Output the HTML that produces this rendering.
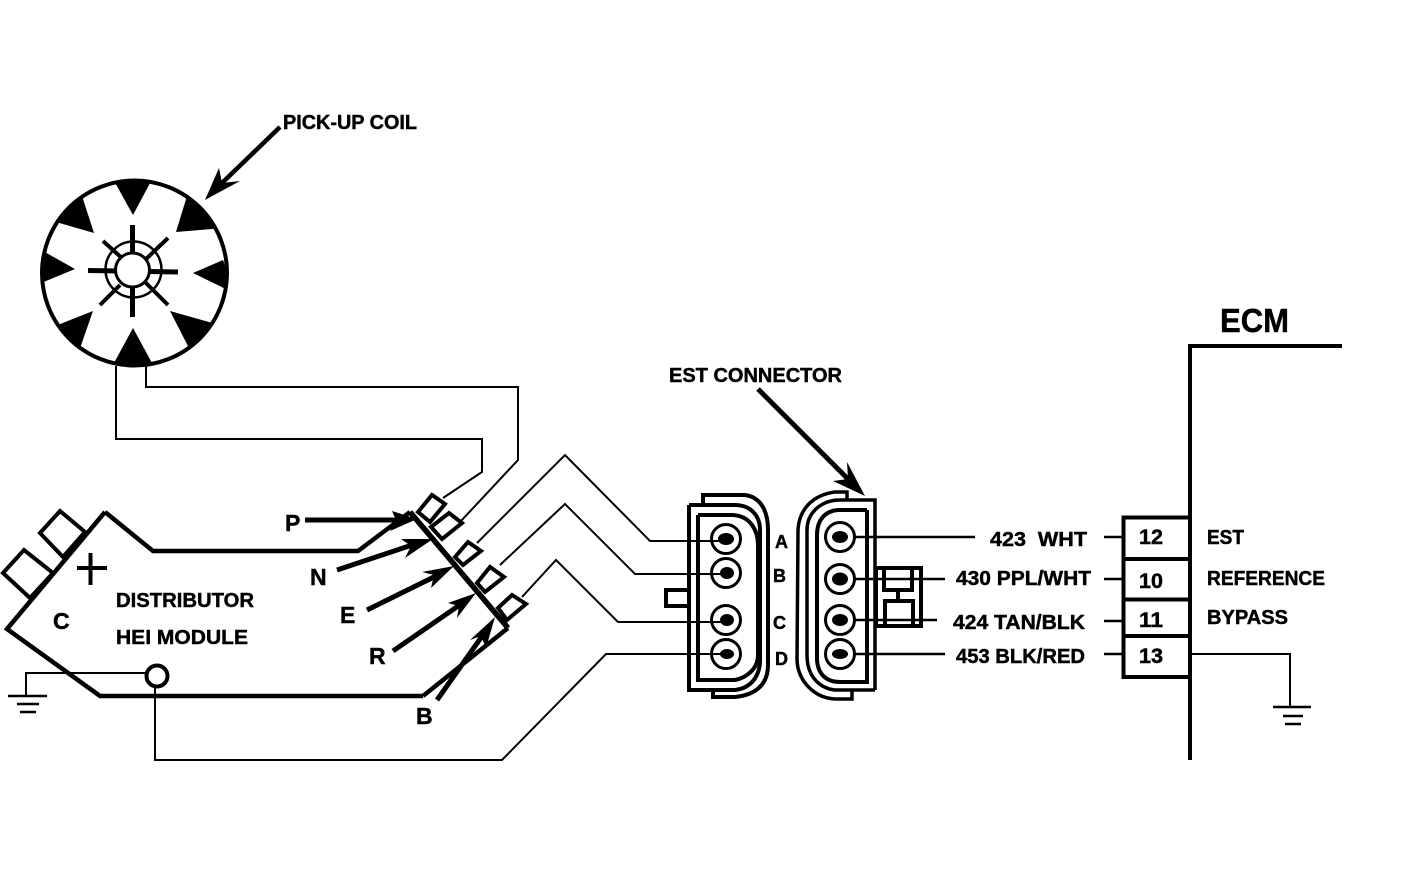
<!DOCTYPE html>
<html><head><meta charset="utf-8"><style>
html,body{margin:0;padding:0;background:#fff}
svg{display:block}
text{font-family:"Liberation Sans",sans-serif;font-weight:bold;fill:#000;stroke:#000;stroke-width:.45px}
</style></head><body>
<svg width="1408" height="894" viewBox="0 0 1408 894" xmlns="http://www.w3.org/2000/svg">
<rect width="1408" height="894" fill="#fff"/>
<defs><clipPath id="cc"><circle cx="134.5" cy="273" r="94"/></clipPath></defs>

<!-- coil -->
<circle cx="134.5" cy="273" r="92.5" fill="#fff" stroke="#000" stroke-width="4"/>
<g clip-path="url(#cc)" fill="#000">
<polygon points="108,170 157,170 133,215"/>
<polygon points="187,196 224,228 176,232"/>
<polygon points="223,260 236,294 193,273"/>
<polygon points="170,311 216,324 190,350"/>
<polygon points="133,328 108,374 158,374"/>
<polygon points="93,311 50,328 78,354"/>
<polygon points="75,269 34,246 34,286"/>
<polygon points="94,233 82,196 56,222"/>
</g>
<g stroke="#000" fill="none" stroke-linecap="butt">
<path d="M132.500 225V317M88 270.500L178 272" stroke-width="5"/>
<path d="M103 241L123 259M168 238L145 260M100 305L120 285M168 305L145 282" stroke-width="4"/>
<circle cx="133.500" cy="269.500" r="28" stroke-width="2.500"/>
<circle cx="132.500" cy="270" r="17" fill="#fff" stroke-width="3"/>
</g>

<!-- thin wires -->
<g fill="none" stroke="#000" stroke-width="2">
<path d="M116 366V439H482V472L443 498"/>
<path d="M146 366V387H518V460L461 521"/>
<path d="M477 543L565 455L650 541H725"/>
<path d="M500 565L565 504L635 574H725"/>
<path d="M522 597L556 560L618 622H725"/>
<path d="M155 686V760H502L606 654H725"/>
<path d="M146 673H26V697"/>
<path d="M1190 654H1290V707"/>
</g>

<!-- module -->
<g fill="none" stroke="#000" stroke-linejoin="miter">
<path d="M105 512L153 551H358L410 512M423 696H100L7 629L105 512M508 628L423 696" stroke-width="4.500"/>
<path d="M410 512L508 628" stroke-width="5.500"/>
<g stroke-width="4">
<path d="M418 512L432 495L445 504L430 522Z"/>
<path d="M431 527L449 513L462 523L442 539Z"/>
<path d="M455 557L468 542L481 551L463 565Z"/>
<path d="M477 583L490 567L504 577L485 592Z"/>
<path d="M498 608L512 595L526 604L507 620Z"/>
<path d="M40 533L60 511L85 532L63 557Z"/>
<path d="M3 573L24 550L53 573L30 598Z"/>
<path d="M77 568H107M90.500 553V585"/>
<circle cx="157" cy="676" r="10.500" fill="#fff"/>
</g>
</g>
<!-- ground left -->
<path d="M8 696H47M17 704H39M20 712H36" stroke="#000" stroke-width="2.500"/>

<!-- arrows -->
<g stroke="#000" stroke-width="5" fill="#000">
<path d="M305 520H400"/><polygon stroke="none" points="417,519 390,531 396,520 392,511"/>
<path d="M337 570L415 544"/><polygon stroke="none" points="433,539 405,558 411,546 401,539"/>
<path d="M367 610L440 574"/><polygon stroke="none" points="454,566 431,588 434,575 422,572"/>
<path d="M393 651L464 602"/><polygon stroke="none" points="476,593 457,618 459,606 448,603"/>
<path d="M437 700L485 632"/><polygon stroke="none" points="495,617 486,648 481,636 470,640"/>
<path d="M280 127L222 183" stroke-width="4.500"/><polygon stroke="none" points="205,200 219,168 222,183 240,181"/>
<path d="M758 389L850 481"/><polygon stroke="none" points="865,496 833,481 848,479 847,462"/>
</g>

<!-- left connector -->
<g fill="none" stroke="#000" stroke-width="4">
<path d="M703 505V495H745C760 497 768 510 768 530V665C768 685 755 695 735 697H713V691"/>
<path d="M689 505V690H735C752 688 760 675 760 660V530C760 515 750 505 735 505H689"/>
<path d="M698 515V680H735C745 678 758 670 758 655"/>
<path d="M698 515H733C750 516 758 530 758 545V655"/>
<rect x="666" y="590" width="23" height="16" />
</g>
<g fill="none" stroke="#000" stroke-width="3">
<circle cx="726" cy="539" r="14.500"/><circle cx="726" cy="573" r="14.500"/><circle cx="726" cy="620" r="14.500"/><circle cx="726" cy="654" r="14.500"/>
</g>
<g fill="#000">
<ellipse cx="726" cy="539" rx="8" ry="6"/><ellipse cx="727" cy="573" rx="7" ry="6"/><ellipse cx="727" cy="620" rx="7" ry="6"/><ellipse cx="727" cy="654" rx="7" ry="5"/>
</g>

<!-- right connector -->
<g fill="none" stroke="#000" stroke-width="3.500">
<path d="M847 500V492H835C812 495 799 510 798 530L797 660C798 682 815 698 835 699H852V690"/>
<path d="M875 690H835C818 688 807 675 807 655V530C807 512 822 500 840 500H875V690"/>
<path d="M867 510H838C825 511 817 520 817 535V660C818 675 827 682 840 682H867V510" stroke-width="4"/>
</g>
<g fill="none" stroke="#000" stroke-width="3">
<circle cx="840" cy="537" r="14.500"/><circle cx="840" cy="579" r="14.500"/><circle cx="840" cy="620" r="14.500"/><circle cx="840" cy="654" r="14.500"/>
</g>
<g fill="#000">
<ellipse cx="840" cy="537" rx="8" ry="6"/><ellipse cx="840" cy="579" rx="8" ry="6.500"/><ellipse cx="840" cy="620" rx="8" ry="6"/><ellipse cx="840" cy="654" rx="8" ry="5"/>
</g>
<!-- clip -->
<g fill="none" stroke="#000" stroke-width="4">
<rect x="876" y="568" width="45" height="58"/>
<path d="M884 568V590H912V568" />
<path d="M898 590V601"/>
<rect x="885" y="601" width="28" height="25"/>
</g>
<path d="M853 537H975M853 579H945M853 620H937M853 654H945" stroke="#000" stroke-width="2.500"/>

<!-- ECM -->
<path d="M1342 346H1190V760" fill="none" stroke="#000" stroke-width="4"/>
<path d="M1190 517.500H1123.500V677H1190M1122 559H1190M1122 599.500H1190M1122 636H1190" fill="none" stroke="#000" stroke-width="4"/>
<path d="M1104 537H1122M1104 579H1122M1104 621H1122M1104 654H1122" stroke="#000" stroke-width="2.500"/>
<path d="M1273 707H1311M1283 716H1303M1285 724H1301" stroke="#000" stroke-width="2.500"/>

<!-- text -->
<text x="283" y="129" font-size="20" textLength="134" lengthAdjust="spacingAndGlyphs">PICK-UP COIL</text>
<text x="669" y="382" font-size="20" textLength="173" lengthAdjust="spacingAndGlyphs">EST CONNECTOR</text>
<text x="1220" y="332" font-size="33" textLength="69" lengthAdjust="spacingAndGlyphs">ECM</text>
<text x="116" y="607" font-size="20" textLength="138" lengthAdjust="spacingAndGlyphs">DISTRIBUTOR</text>
<text x="116" y="644" font-size="20" textLength="132" lengthAdjust="spacingAndGlyphs">HEI MODULE</text>
<text x="53" y="629" font-size="23">C</text>
<text x="285" y="531" font-size="23">P</text>
<text x="310" y="585" font-size="23">N</text>
<text x="340" y="623" font-size="23">E</text>
<text x="369" y="664" font-size="23">R</text>
<text x="416" y="724" font-size="23">B</text>
<text x="775" y="548" font-size="18">A</text>
<text x="773" y="582" font-size="18">B</text>
<text x="773" y="629" font-size="18">C</text>
<text x="775" y="665" font-size="18">D</text>
<text x="990" y="546" font-size="20" textLength="97" lengthAdjust="spacingAndGlyphs" xml:space="preserve">423  WHT</text>
<text x="956" y="585" font-size="20" textLength="135" lengthAdjust="spacingAndGlyphs">430 PPL/WHT</text>
<text x="953" y="629" font-size="20" textLength="132" lengthAdjust="spacingAndGlyphs">424 TAN/BLK</text>
<text x="956" y="663" font-size="20" textLength="129" lengthAdjust="spacingAndGlyphs">453 BLK/RED</text>
<text x="1139" y="544" font-size="21" textLength="24" lengthAdjust="spacingAndGlyphs">12</text>
<text x="1139" y="588" font-size="21" textLength="24" lengthAdjust="spacingAndGlyphs">10</text>
<text x="1139" y="627" font-size="21" textLength="24" lengthAdjust="spacingAndGlyphs">11</text>
<text x="1139" y="663" font-size="21" textLength="24" lengthAdjust="spacingAndGlyphs">13</text>
<text x="1207" y="544" font-size="20" textLength="37" lengthAdjust="spacingAndGlyphs">EST</text>
<text x="1207" y="585" font-size="20" textLength="118" lengthAdjust="spacingAndGlyphs">REFERENCE</text>
<text x="1207" y="624" font-size="20" textLength="81" lengthAdjust="spacingAndGlyphs">BYPASS</text>
</svg>
</body></html>
